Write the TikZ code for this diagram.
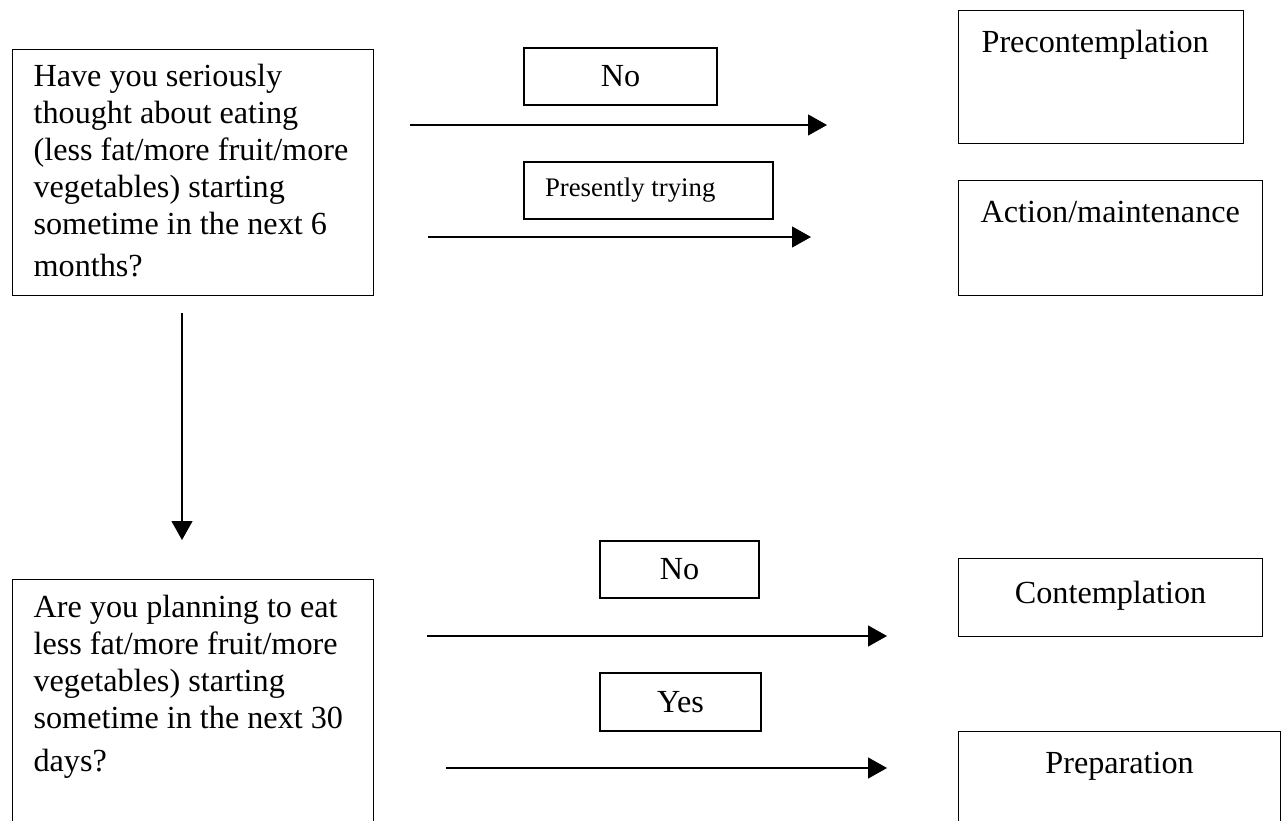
\documentclass[tikz,border=0pt]{standalone}
\usepackage{fontspec}
\setmainfont{Liberation Serif}
\usetikzlibrary{arrows.meta}
\tikzset{
  question/.style = {draw, line width=1.2pt, anchor=north west, align=left,
    text width=319pt, inner xsep=21pt, text height=22pt,
    font={\fontsize{32.2}{37}\selectfont},
    execute at begin node={\spaceskip=0pt\xspaceskip=0pt}},
  stage/.style = {draw, line width=1.2pt, anchor=north west, inner xsep=23pt,
    inner ysep=20pt, text height=22pt, font={\fontsize{32.2}{37}\selectfont}},
  answer/.style = {draw, line width=1.2pt, minimum height=57pt, inner sep=0pt,
    font={\fontsize{32.2}{37}\selectfont}},
  flow/.style = {line width=1.3pt, -{Triangle[length=19pt, width=21pt]}}
}
\begin{document}
\begin{tikzpicture}[x=1pt, y=-1pt]
\useasboundingbox (0,0) rectangle (1287,821);
% questions
\node (q1) [question, inner ysep=15pt, text depth=194pt] at (12,49)
  {Have you seriously\\ thought about eating\\ (less fat/more fruit/more\\
   vegetables) starting\\ sometime in the next 6\\[5pt] months?};
\node (q2) [question, inner ysep=16pt, text depth=260pt] at (12,579)
  {Are you planning to eat\\ less fat/more fruit/more\\ vegetables) starting\\
   sometime in the next 30\\[6pt] days?};
% stages
\node (pre) [stage, text width=239pt, align=left, text depth=71pt] at (958,10) {Precontemplation};
\node (act) [stage, inner xsep=22pt, text width=260pt, align=left, text depth=53pt] at (958,180) {Action/maintenance};
\node (con) [stage, text width=258pt, align=center, text height=25pt, text depth=13pt] at (958,558) {Contemplation};
\node (prep) [stage, text width=276pt, align=center, text depth=100pt] at (958,731) {Preparation};
% answers
\node (no1) [answer, minimum width=193pt] at (620.5,76.5) {No};
\node (try) [answer, minimum width=249pt, text width=207pt, align=left, inner xsep=21pt,
  font={\fontsize{26.8}{31}\selectfont},
  execute at begin node={\spaceskip=0pt\xspaceskip=0pt}] at (648.5,190.5) {Presently trying};
\node (no2) [answer, minimum width=159pt] at (679.5,569.5) {No};
\node (yes) [answer, minimum width=161pt, minimum height=58pt] at (680.5,702) {Yes};
% arrow ends
\coordinate (a1s) at (410,125);  \coordinate (a1e) at (827,125);
\coordinate (a2s) at (428,237);  \coordinate (a2e) at (811,237);
\coordinate (a3s) at (427,636);  \coordinate (a3e) at (887,636);
\coordinate (a4s) at (446,768);  \coordinate (a4e) at (887,768);
\coordinate (dns) at (182,313);  \coordinate (dne) at (182,540);
\path [flow]
    (a1s) edge (a1e)
    (a2s) edge (a2e)
    (a3s) edge (a3e)
    (a4s) edge (a4e)
    (dns) edge (dne);
\end{tikzpicture}
\end{document}
